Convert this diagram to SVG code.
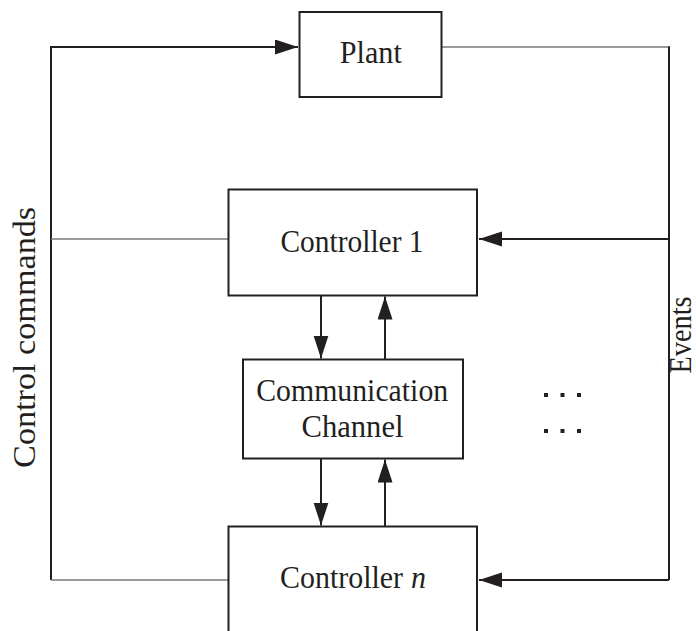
<svg xmlns="http://www.w3.org/2000/svg" width="696" height="631" viewBox="0 0 696 631">
  <style>
    .box { fill: #ffffff; stroke: #231f20; stroke-width: 2; }
    .wire { fill: none; stroke: #231f20; stroke-width: 2; }
    .thin { fill: none; stroke: #7a7a7a; stroke-width: 1.6; }
    .lbl { font-family: "Liberation Serif", "Times New Roman", serif; font-size: 32px; fill: #231f20; text-anchor: middle; }
    .start { text-anchor: start; }
    .side { font-family: "Liberation Serif", "Times New Roman", serif; font-size: 32px; fill: #231f20; text-anchor: middle; }
    .dot { fill: #231f20; }
  </style>
  <defs>
    <marker id="arrow" markerUnits="userSpaceOnUse" markerWidth="24" markerHeight="16" refX="23" refY="7.5" orient="auto">
      <path d="M0,0 L23,7.5 L0,15 Z" fill="#231f20"/>
    </marker>
  </defs>

  <rect width="696" height="631" fill="#ffffff"/>

  <!-- connectors -->
  <g id="connectors">
    <!-- control commands loop (left) -->
    <polyline class="wire" points="51,580 51,47 298,47" marker-end="url(#arrow)"/>
    <line class="thin" x1="51" y1="239" x2="228" y2="239"/>
    <line class="thin" x1="51" y1="580" x2="228" y2="580"/>
    <!-- events loop (right) -->
    <line class="thin" x1="442" y1="47" x2="669" y2="47"/>
    <polyline class="wire" points="669,46.2 669,580"/>
    <line class="wire" x1="669" y1="239" x2="479" y2="239" marker-end="url(#arrow)"/>
    <line class="wire" x1="669" y1="580" x2="479" y2="580" marker-end="url(#arrow)"/>
    <!-- controller 1 <-> channel -->
    <line class="wire" x1="321" y1="296" x2="321" y2="358.5" marker-end="url(#arrow)"/>
    <line class="wire" x1="385" y1="359" x2="385" y2="296.5" marker-end="url(#arrow)"/>
    <!-- channel <-> controller n -->
    <line class="wire" x1="321" y1="459" x2="321" y2="525.5" marker-end="url(#arrow)"/>
    <line class="wire" x1="385" y1="526" x2="385" y2="459.5" marker-end="url(#arrow)"/>
  </g>

  <g id="plant">
    <rect class="box" x="299.5" y="12" width="142" height="85"/>
    <text class="lbl" x="370.8" y="63.3" textLength="62" lengthAdjust="spacingAndGlyphs">Plant</text>
  </g>

  <g id="controller-1">
    <rect class="box" x="228.5" y="189.5" width="248.5" height="106"/>
    <text class="lbl" x="352" y="251.7" textLength="143" lengthAdjust="spacingAndGlyphs">Controller 1</text>
  </g>

  <g id="channel">
    <rect class="box" x="243" y="359.5" width="220" height="99"/>
    <text class="lbl" x="352.2" y="400.7" textLength="192" lengthAdjust="spacingAndGlyphs">Communication</text>
    <text class="lbl" x="352.5" y="437.3" textLength="102" lengthAdjust="spacingAndGlyphs">Channel</text>
  </g>

  <g id="controller-n">
    <rect class="box" x="228.5" y="526.5" width="248.5" height="120"/>
    <text class="lbl start" x="280" y="588.3" textLength="123" lengthAdjust="spacingAndGlyphs">Controller</text>
    <text class="lbl start" x="411" y="588.3" font-style="italic" textLength="15" lengthAdjust="spacingAndGlyphs">n</text>
  </g>

  <!-- ellipsis for further controllers -->
  <g id="ellipsis">
    <rect class="dot" x="544" y="393" width="4" height="4"/>
    <rect class="dot" x="560.5" y="393" width="4" height="4"/>
    <rect class="dot" x="577" y="393" width="4" height="4"/>
    <rect class="dot" x="544" y="429" width="4" height="4"/>
    <rect class="dot" x="560.5" y="429" width="4" height="4"/>
    <rect class="dot" x="577" y="429" width="4" height="4"/>
  </g>

  <!-- side labels -->
  <text class="side" transform="translate(35,337.4) rotate(-90)" textLength="261" lengthAdjust="spacingAndGlyphs">Control commands</text>
  <text class="side" transform="translate(690.5,335) rotate(-90)" font-size="26" textLength="77" lengthAdjust="spacingAndGlyphs">Events</text>
</svg>
